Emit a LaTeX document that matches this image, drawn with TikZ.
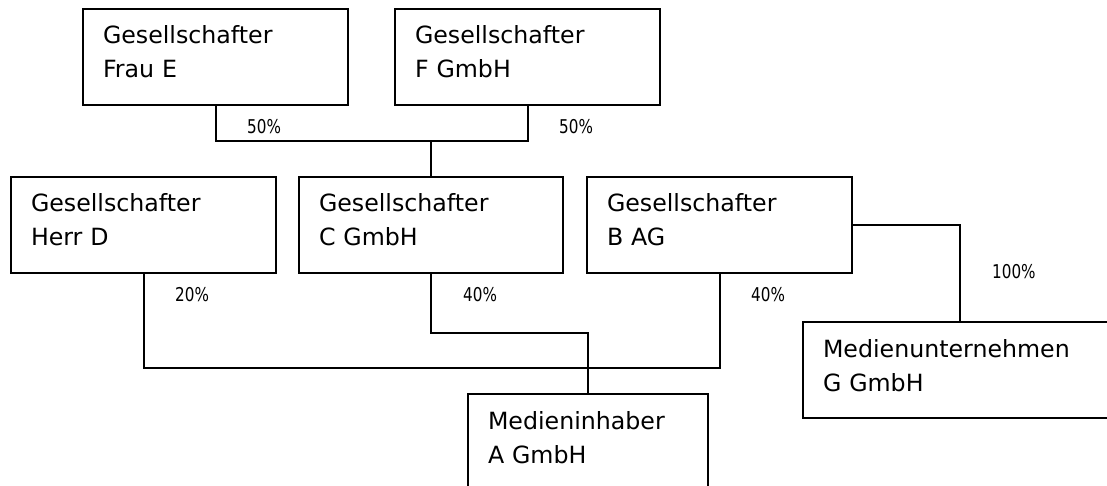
\documentclass[tikz,border=0pt]{standalone}
\usepackage{fontspec}
\setmainfont{DejaVu Sans}
\newfontfamily\pctfont[FakeStretch=0.8]{DejaVu Sans}
\newcommand{\firmlines}[2]{\rule{0pt}{35pt}#1\\#2\rule[-27pt]{0pt}{27pt}}
\begin{document}
\begin{tikzpicture}[x=1pt,y=-1pt]
\tikzstyle{firm}=[rectangle,draw=black,line width=2pt,outer sep=0pt,anchor=north west,text width=225pt,inner xsep=20pt,inner ysep=0pt,minimum height=96pt,align=left,font=\fontsize{23.7}{34}\selectfont]
\tikzstyle{share}=[anchor=base west,inner sep=0pt,font=\pctfont\fontsize{19}{22}\selectfont]
\tikzstyle{link}=[draw=black,line width=2pt]

\useasboundingbox (0,0) rectangle (1107,486);
\clip (0,0) rectangle (1107,486);

% owners on top
\node [firm] at (83,9) (frauE) {\firmlines{Gesellschafter}{Frau E}};
\node [firm] at (395,9) (fGmbH) {\firmlines{Gesellschafter}{F GmbH}};

% shareholders of A
\node [firm] at (11,177) (herrD) {\firmlines{Gesellschafter}{Herr D}};
\node [firm,text width=224pt] at (299,177) (cGmbH) {\firmlines{Gesellschafter}{C GmbH}};
\node [firm] at (587,177) (bAG) {\firmlines{Gesellschafter}{B AG}};

\node [firm,text width=274pt] at (803,322) (gGmbH) {\firmlines{Medienunternehmen}{G GmbH}};
\node [firm,text width=200pt] at (468,394) (aGmbH) {\firmlines{Medieninhaber}{A GmbH}};

% connectors
\coordinate (efJoin) at (431,141);
\coordinate (lowBus) at (588,368);
\coordinate (caBend) at (588,333);
\draw [link] (frauE.south) |- (efJoin) -| (fGmbH.south);
\draw [link] (efJoin) -- (cGmbH.north);
\draw [link] (herrD.south) |- (lowBus) -| (bAG.south);
\draw [link] (cGmbH.south) |- (caBend) -- (aGmbH.north);
\draw [link] (bAG.east) -| (gGmbH.north);

% shares
\node [share] at (247,134) (pctE) {50\%};
\node [share] at (559,134) (pctF) {50\%};
\node [share] at (175,301) (pctD) {20\%};
\node [share] at (463,301) (pctC) {40\%};
\node [share] at (751,301) (pctB) {40\%};
\node [share] at (992,278) (pctG) {100\%};
\end{tikzpicture}
\end{document}
